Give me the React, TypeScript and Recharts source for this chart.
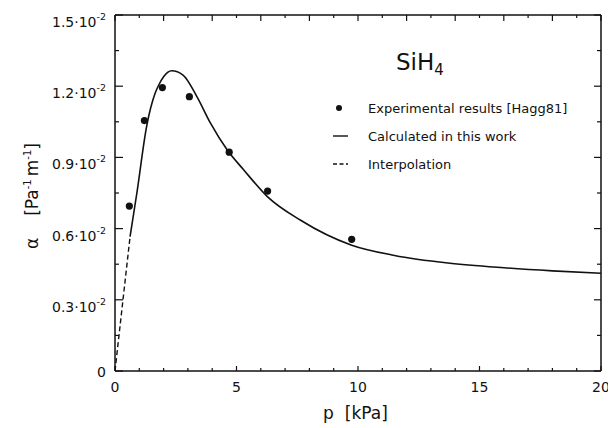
import React from "react";
import { ComposedChart, Line, Scatter, XAxis, YAxis, Customized } from "recharts";

// Experimental results [Hagg81]
const expPressure = [0.59, 1.21, 1.95, 3.06, 4.7, 6.28, 9.74];
const expAlpha = [0.695, 1.055, 1.194, 1.156, 0.922, 0.758, 0.555];

// Calculated in this work
const calcPressure = [0.62, 0.9, 1.3, 1.65, 1.8, 2.0, 2.33, 2.8, 3.37, 3.93, 4.62, 5.3, 6.27, 7.64, 9.74, 11.5, 13.7, 16, 18, 20];
const calcAlpha = [0.566, 0.75, 1.03, 1.17, 1.205, 1.24, 1.265, 1.247, 1.156, 1.044, 0.931, 0.847, 0.735, 0.635, 0.53, 0.487, 0.455, 0.435, 0.422, 0.412];

// Interpolation
const interpPressure = [0, 0.62];
const interpAlpha = [0, 0.566];

const xTicks = [0, 1, 2, 3, 4, 5, 6, 7, 8, 9, 10, 11, 12, 13, 14, 15, 16, 17, 18, 19, 20];
const yTicks = [0, 0.15, 0.3, 0.45, 0.6, 0.75, 0.9, 1.05, 1.2, 1.35, 1.5];
const yTickLabels = ["0", "0.3", "0.6", "0.9", "1.2", "1.5"];
const yExponent = "-2";
const legendLabels = ["Experimental results [Hagg81]", "Calculated in this work", "Interpolation"];

const expData = expPressure.map((p, i) => ({ p, a: expAlpha[i] }));
const calcData = calcPressure.map((p, i) => ({ p, a: calcAlpha[i] }));
const interpData = interpPressure.map((p, i) => ({ p, a: interpAlpha[i] }));

const FONT = "'DejaVu Sans', sans-serif";
const INK = "#111";

const BottomTick = (props: any) => {
  const { x, y, payload } = props;
  const v = payload.value;
  const major = v % 5 === 0;
  return (
    <g>
      <line x1={x} y1={y} x2={x} y2={y - (major ? 5 : 3)} stroke={INK} strokeWidth={1.2} />
      {major && (
        <text x={x} y={y + 21} textAnchor="middle" fontSize={14} fontFamily={FONT} fill={INK}>
          {v}
        </text>
      )}
    </g>
  );
};

const TopTick = (props: any) => {
  const { x, y, payload } = props;
  const major = payload.value % 2 === 0;
  return <line x1={x} y1={y} x2={x} y2={y + (major ? 6 : 3)} stroke={INK} strokeWidth={1.2} />;
};

const LeftTick = (props: any) => {
  const { x, y, index } = props;
  const major = index % 2 === 0;
  const lab = major ? yTickLabels[index / 2] : null;
  return (
    <g>
      <line x1={x} y1={y} x2={x + (major ? 8 : 4)} y2={y} stroke={INK} strokeWidth={1.2} />
      {lab === "0" && (
        <text x={x - 9} y={y + 6} textAnchor="end" fontSize={14} fontFamily={FONT} fill={INK}>
          0
        </text>
      )}
      {lab && lab !== "0" && (
        <text x={x - 9} y={y + 12} textAnchor="end" fontSize={14} fontFamily={FONT} fill={INK}>
          <tspan>{lab}·10</tspan>
          <tspan dy={-7} fontSize={9.5}>{yExponent}</tspan>
        </text>
      )}
    </g>
  );
};

const RightTick = (props: any) => {
  const { x, y, index } = props;
  const major = index % 2 === 0;
  return <line x1={x} y1={y} x2={x - (major ? 7 : 4)} y2={y} stroke={INK} strokeWidth={1.2} />;
};

const Overlay = () => (
  <g fontFamily={FONT} fill={INK}>
    <text x={388} y={62} fontSize={23}>
      <tspan>SiH</tspan>
      <tspan dy={5} fontSize={15}>4</tspan>
    </text>
    <circle cx={331} cy={100} r={3} fill={INK} />
    <line x1={325} y1={128} x2={340} y2={128} stroke={INK} strokeWidth={1.4} />
    <line x1={325} y1={156} x2={340} y2={156} stroke={INK} strokeWidth={1.4} strokeDasharray="4 2.5" />
    <text x={360} y={104.5} fontSize={13}>{legendLabels[0]}</text>
    <text x={360} y={132.5} fontSize={13}>{legendLabels[1]}</text>
    <text x={360} y={160.5} fontSize={13}>{legendLabels[2]}</text>
    <text x={315} y={411} fontSize={17}>
      <tspan>p</tspan>
      <tspan dx={11}>[kPa]</tspan>
    </text>
    <text transform="translate(29.5,241) rotate(-90)" fontSize={17}>
      <tspan>α</tspan>
      <tspan dx={22}>[Pa</tspan>
      <tspan dy={-7} fontSize={10}>-1</tspan>
      <tspan dy={7} dx={3}>m</tspan>
      <tspan dy={-7} fontSize={10}>-1</tspan>
      <tspan dy={7}>]</tspan>
    </text>
  </g>
);

export default function App() {
  return (
    <ComposedChart width={608} height={420} margin={{ top: 6, right: 14, bottom: 27, left: 47 }}>
      <XAxis
        xAxisId="b"
        type="number"
        dataKey="p"
        domain={[0, 20]}
        ticks={xTicks}
        interval={0}
        allowDataOverflow
        height={30}
        tickSize={0}
        tickMargin={0}
        tickLine={false}
        axisLine={{ stroke: INK, strokeWidth: 1.5 }}
        tick={BottomTick}
      />
      <XAxis
        xAxisId="t"
        orientation="top"
        type="number"
        dataKey="p"
        domain={[0, 20]}
        ticks={xTicks}
        interval={0}
        allowDataOverflow
        height={1}
        tickSize={0}
        tickMargin={0}
        tickLine={false}
        axisLine={{ stroke: INK, strokeWidth: 1.5 }}
        tick={TopTick}
      />
      <YAxis
        yAxisId="l"
        type="number"
        domain={[0, 1.5]}
        ticks={yTicks}
        interval={0}
        allowDataOverflow
        width={60}
        tickSize={0}
        tickMargin={0}
        tickLine={false}
        axisLine={{ stroke: INK, strokeWidth: 1.5 }}
        tick={LeftTick}
      />
      <YAxis
        yAxisId="r"
        orientation="right"
        type="number"
        domain={[0, 1.5]}
        ticks={yTicks}
        interval={0}
        allowDataOverflow
        width={1}
        tickSize={0}
        tickMargin={0}
        tickLine={false}
        axisLine={{ stroke: INK, strokeWidth: 1.5 }}
        tick={RightTick}
      />
      <Line
        xAxisId="b"
        yAxisId="l"
        data={interpData}
        dataKey="a"
        type="linear"
        stroke={INK}
        strokeWidth={1.4}
        strokeDasharray="5 3"
        dot={false}
        activeDot={false}
        isAnimationActive={false}
      />
      <Line
        xAxisId="b"
        yAxisId="l"
        data={calcData}
        dataKey="a"
        type="monotone"
        stroke={INK}
        strokeWidth={1.6}
        dot={false}
        activeDot={false}
        isAnimationActive={false}
      />
      <Scatter
        xAxisId="b"
        yAxisId="l"
        data={expData}
        dataKey="a"
        fill={INK}
        isAnimationActive={false}
        shape={(p: any) => <circle cx={p.cx} cy={p.cy} r={3.6} fill={INK} />}
      />
      <Customized component={Overlay} />
    </ComposedChart>
  );
}
